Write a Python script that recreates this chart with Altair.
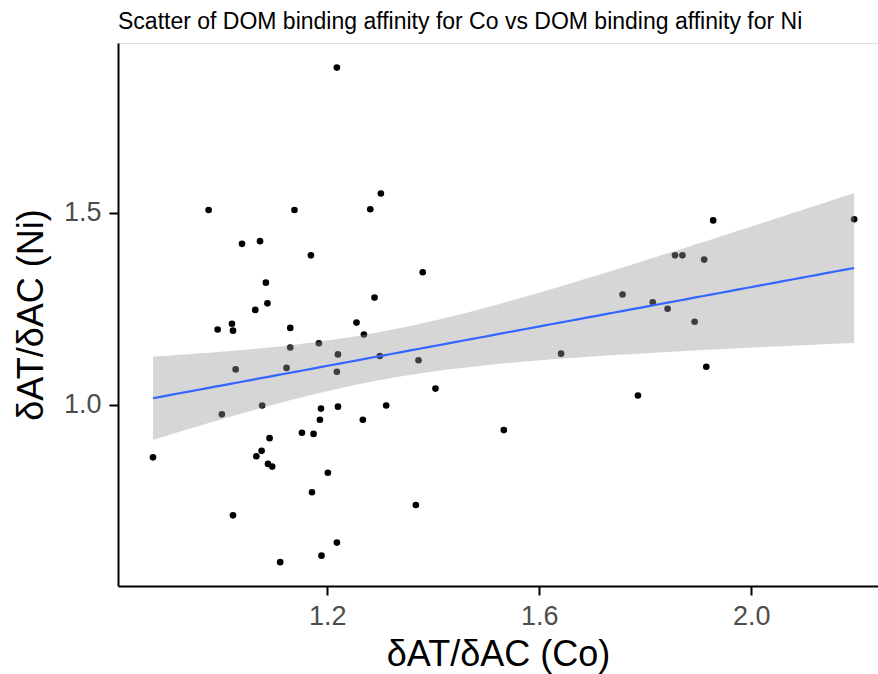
import altair as alt
import numpy as np
import pandas as pd

# DOM binding affinity ratios
co = [0.976, 1.138, 1.039, 1.073, 1.084, 1.218, 1.301, 1.281, 1.169, 1.380,
      1.289, 1.087, 1.064, 0.993, 1.020, 1.022, 1.130, 1.255, 1.269, 1.130,
      1.184, 1.220, 1.299, 1.372, 1.027, 1.123, 1.218, 1.001, 1.077, 1.188,
      1.220, 1.311, 1.186, 1.267, 1.152, 1.174, 1.091, 0.871, 1.076, 1.066,
      1.088, 1.096, 1.201, 1.171, 1.367, 1.022, 1.218, 1.189, 1.111, 1.404,
      1.928, 2.194, 1.856, 1.870, 1.911, 1.757, 1.814, 1.842, 1.893, 1.641,
      1.915, 1.786, 1.533]
ni = [1.507, 1.507, 1.419, 1.426, 1.318, 1.878, 1.550, 1.509, 1.389, 1.345,
      1.279, 1.264, 1.247, 1.196, 1.211, 1.193, 1.200, 1.214, 1.183, 1.149,
      1.160, 1.131, 1.127, 1.116, 1.092, 1.096, 1.086, 0.975, 0.998, 0.990,
      0.995, 0.998, 0.961, 0.961, 0.927, 0.924, 0.913, 0.863, 0.880, 0.866,
      0.846, 0.839, 0.823, 0.772, 0.739, 0.712, 0.641, 0.607, 0.590, 1.042,
      1.480, 1.483, 1.389, 1.389, 1.378, 1.287, 1.267, 1.250, 1.216, 1.133,
      1.099, 1.024, 0.934]

x_ticks = [1.2, 1.6, 2.0]
y_ticks = [1.0, 1.5]
title_text = "Scatter of DOM binding affinity for Co vs DOM binding affinity for Ni"
x_title = "δAT/δAC (Co)"
y_title = "δAT/δAC (Ni)"

pts = pd.DataFrame({"co": co, "ni": ni})

# linear model smooth with 95% confidence band (as geom_smooth(method="lm"))
xa = np.array(co)
ya = np.array(ni)
n = len(xa)
slope, intercept = np.polyfit(xa, ya, 1)
resid = ya - (intercept + slope * xa)
s = np.sqrt(np.sum(resid ** 2) / (n - 2))
sxx = np.sum((xa - xa.mean()) ** 2)
t_q = 1.9996  # t(0.975, df = n - 2)
grid = np.linspace(xa.min(), xa.max(), 80)
fit = intercept + slope * grid
se = s * np.sqrt(1.0 / n + (grid - xa.mean()) ** 2 / sxx)
smooth = pd.DataFrame({"co": grid, "fit": fit, "lo": fit - t_q * se, "hi": fit + t_q * se})

FONT = "Liberation Sans"
xdom = [0.805, 2.239]
ydom = [0.528, 1.942]

xscale = alt.Scale(domain=xdom, nice=False, zero=False)
yscale = alt.Scale(domain=ydom, nice=False, zero=False)

xaxis = alt.Axis(values=x_ticks, format=".1f", title=x_title, grid=False,
                 labelFontSize=27, labelColor="#4D4D4D", labelFont=FONT,
                 tickSize=9, tickWidth=2, tickColor="black",
                 domainColor="black", domainWidth=2, labelPadding=8,
                 titleFontSize=36, titleFont=FONT, titleFontWeight="normal",
                 titleColor="black", titlePadding=8)
yaxis = alt.Axis(values=y_ticks, format=".1f", title=y_title, grid=False,
                 labelFontSize=27, labelColor="#4D4D4D", labelFont=FONT,
                 tickSize=9, tickWidth=2, tickColor="black",
                 domainColor="black", domainWidth=2, labelPadding=8,
                 titleFontSize=36, titleFont=FONT, titleFontWeight="normal",
                 titleColor="black", titlePadding=13)

points = alt.Chart(pts).mark_circle(size=44, color="black", opacity=1).encode(
    x=alt.X("co:Q", scale=xscale, axis=xaxis),
    y=alt.Y("ni:Q", scale=yscale, axis=yaxis),
)
band = alt.Chart(smooth).mark_area(color="#999999", opacity=0.4).encode(
    x=alt.X("co:Q", scale=xscale),
    y=alt.Y("lo:Q", scale=yscale),
    y2="hi:Q",
)
line = alt.Chart(smooth).mark_line(color="#3366FF", strokeWidth=2.2).encode(
    x=alt.X("co:Q", scale=xscale),
    y=alt.Y("fit:Q", scale=yscale),
)

chart = alt.layer(points, band, line).properties(
    width=760, height=543,
    title=alt.TitleParams(text=title_text, anchor="start", frame="group",
                          fontSize=23, font=FONT, fontWeight="normal",
                          color="black", offset=9),
    autosize=alt.AutoSizeParams(type="none"),
    padding={"left": 118, "top": 43, "right": 0, "bottom": 88},
).configure_view(stroke=None).configure(background="white")

chart.save("out.html", embed_options={"renderer": "svg", "actions": False})
